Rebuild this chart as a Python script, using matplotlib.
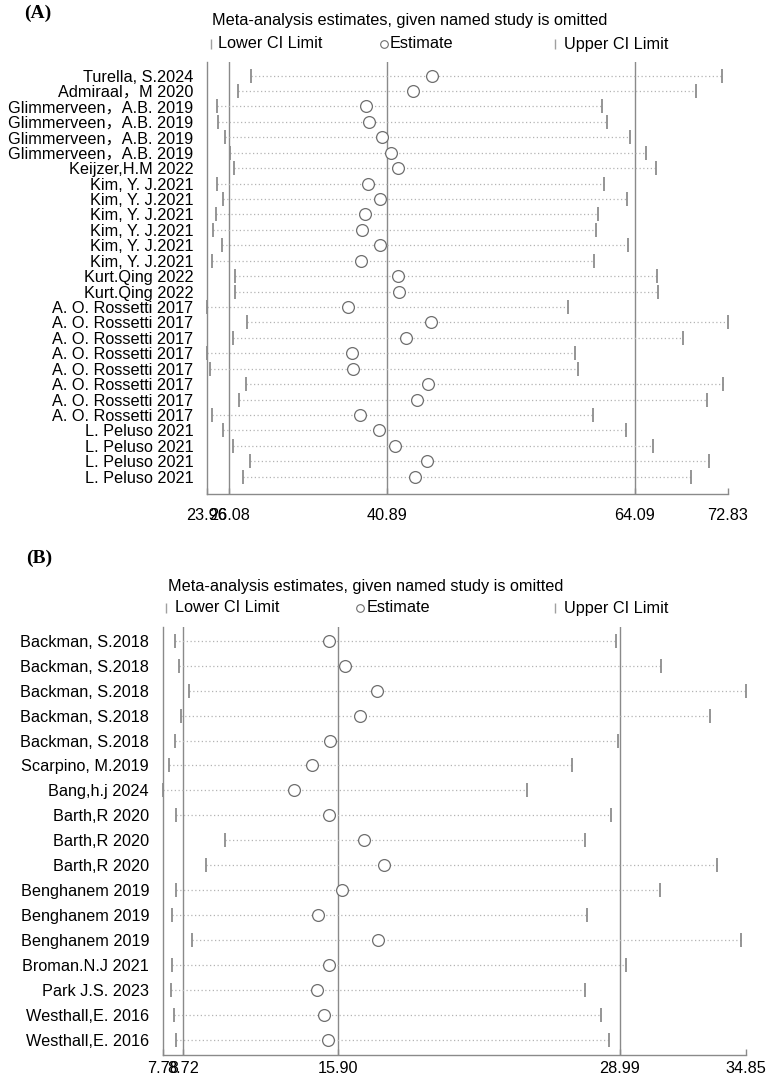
import matplotlib
matplotlib.use('Agg')
import matplotlib.pyplot as plt
from matplotlib.lines import Line2D

plt.rcParams['font.family'] = ['Liberation Sans', 'Noto Sans CJK SC', 'DejaVu Sans']

# ---------------- data: panel A ----------------
labels_a = ["Turella, S.2024", "Admiraal，M 2020",
            "Glimmerveen，A.B. 2019", "Glimmerveen，A.B. 2019",
            "Glimmerveen，A.B. 2019", "Glimmerveen，A.B. 2019",
            "Keijzer,H.M 2022",
            "Kim, Y. J.2021", "Kim, Y. J.2021", "Kim, Y. J.2021",
            "Kim, Y. J.2021", "Kim, Y. J.2021", "Kim, Y. J.2021",
            "Kurt.Qing 2022", "Kurt.Qing 2022",
            "A. O. Rossetti 2017", "A. O. Rossetti 2017", "A. O. Rossetti 2017",
            "A. O. Rossetti 2017", "A. O. Rossetti 2017", "A. O. Rossetti 2017",
            "A. O. Rossetti 2017", "A. O. Rossetti 2017",
            "L. Peluso 2021", "L. Peluso 2021", "L. Peluso 2021", "L. Peluso 2021"]
lower_a = [28.14, 26.93, 24.91, 25.04, 25.65, 26.12, 26.56,
           24.94, 25.55, 24.81, 24.57, 25.45, 24.50,
           26.59, 26.62,
           23.96, 27.80, 26.49, 24.03, 24.27, 27.67, 26.96, 24.46,
           25.51, 26.42, 28.04, 27.40]
est_a = [45.06, 43.31, 38.94, 39.21, 40.42, 41.26, 41.87,
         39.07, 40.22, 38.77, 38.53, 40.22, 38.40,
         41.93, 41.97,
         37.26, 44.99, 42.61, 37.59, 37.73, 44.76, 43.72, 38.37,
         40.15, 41.66, 44.62, 43.51]
upper_a = [72.25, 69.79, 60.98, 61.48, 63.67, 65.15, 66.06,
           61.21, 63.37, 60.64, 60.44, 63.50, 60.30,
           66.16, 66.23,
           57.88, 72.83, 68.62, 58.52, 58.76, 72.35, 70.87, 60.17,
           63.23, 65.79, 71.07, 69.32]
overall_a = [26.08, 40.89, 64.09]   # lower CI, estimate, upper CI

# ---------------- data: panel B ----------------
labels_b = ["Backman, S.2018", "Backman, S.2018", "Backman, S.2018",
            "Backman, S.2018", "Backman, S.2018", "Scarpino, M.2019",
            "Bang,h.j 2024", "Barth,R 2020", "Barth,R 2020", "Barth,R 2020",
            "Benghanem 2019", "Benghanem 2019", "Benghanem 2019",
            "Broman.N.J 2021", "Park J.S. 2023",
            "Westhall,E. 2016", "Westhall,E. 2016"]
lower_b = [8.33, 8.54, 9.01, 8.63, 8.33, 8.05, 7.78, 8.41, 10.65, 9.77,
           8.39, 8.18, 9.12, 8.22, 8.17, 8.30, 8.37]
est_b = [15.51, 16.25, 17.73, 16.93, 15.53, 14.69, 13.85, 15.51, 17.10, 18.07,
         16.09, 15.00, 17.77, 15.51, 14.95, 15.28, 15.45]
upper_b = [28.83, 30.92, 34.85, 33.20, 28.92, 26.79, 24.68, 28.60, 27.39, 33.50,
           30.88, 27.50, 34.62, 29.28, 27.39, 28.15, 28.51]
overall_b = [8.72, 15.90, 28.99]

title_text = "Meta-analysis estimates, given named study is omitted"

W, H = 767, 1083
fig = plt.figure(figsize=(W / 100, H / 100), dpi=100)

FS = 11.7
GRAY_LINE = '#8a8a8a'
GRAY_TICK = '#8c8c8c'
GRAY_DOT = '#b4b4b4'
GRAY_CIRC = '#6e6e6e'


def fx(px):
    return px / W


def fy(py):
    return 1 - py / H


def panel(rect, labels, lower, est, upper, overall, ylim, tick_ms, label_pad, ypad):
    ax = fig.add_axes(rect)
    n = len(labels)
    ys = list(range(1, n + 1))
    xmin, xmax = min(lower), max(upper)
    for y, lo, e, up in zip(ys, lower, est, upper):
        ax.plot([lo, up], [y, y], linestyle=(0, (1, 2)), color=GRAY_DOT, lw=0.9, zorder=2)
    ax.plot(lower, ys, linestyle='none', marker='|', ms=tick_ms, mew=1.3,
            color=GRAY_TICK, zorder=3, clip_on=False)
    ax.plot(upper, ys, linestyle='none', marker='|', ms=tick_ms, mew=1.3,
            color=GRAY_TICK, zorder=3, clip_on=False)
    ax.plot(est, ys, linestyle='none', marker='o', ms=8.5, mfc='white',
            mec=GRAY_CIRC, mew=0.9, zorder=4, clip_on=False)
    for v in overall:
        ax.axvline(v, color=GRAY_LINE, lw=1.0, zorder=1)
    ax.set_xlim(xmin, xmax)
    ax.set_ylim(*ylim)
    ax.set_yticks(ys)
    ax.set_yticklabels(labels, fontsize=FS)
    ax.tick_params(axis='y', length=0, pad=ypad)
    ticks = [xmin] + list(overall) + [xmax]
    ax.set_xticks(ticks)
    ax.set_xticklabels(["%.2f" % t for t in ticks], fontsize=FS)
    ax.tick_params(axis='x', direction='in', length=4.5, width=1.0,
                   color=GRAY_LINE, pad=label_pad)
    for s in ['top', 'right']:
        ax.spines[s].set_visible(False)
    for s in ['left', 'bottom']:
        ax.spines[s].set_color(GRAY_LINE)
        ax.spines[s].set_linewidth(1.0)
    return ax


def legend(y, bar1, t1, circ, t2, bar2, t3):
    fig.add_artist(Line2D([fx(bar1)], [fy(y)], marker='|', ms=7, mew=1.0,
                          color='#a0a0a0', linestyle='none'))
    fig.text(fx(t1), fy(y), "Lower CI Limit", fontsize=FS, ha='left', va='center')
    fig.add_artist(Line2D([fx(circ)], [fy(y)], marker='o', ms=5.5, mew=0.8,
                          mfc='white', mec=GRAY_CIRC, linestyle='none'))
    fig.text(fx(t2), fy(y), "Estimate", fontsize=FS, ha='left', va='center')
    fig.add_artist(Line2D([fx(bar2)], [fy(y)], marker='|', ms=7, mew=1.0,
                          color='#a0a0a0', linestyle='none'))
    fig.text(fx(t3), fy(y), "Upper CI Limit", fontsize=FS, ha='left', va='center')


# ---------- Panel A ----------
rect_a = [fx(206.5), fy(494), fx(728) - fx(206.5), (494 - 62) / H]
panel(rect_a, labels_a, lower_a, est_a, upper_a, overall_a,
      (28.12, 0.125), 9.5, 10.0, 9.5)
fig.text(fx(24), fy(13), "(A)", fontsize=14, fontweight='bold',
         family='Liberation Serif', ha='left', va='center')
fig.text(fx(212), fy(21), title_text, fontsize=FS, ha='left', va='center')
legend(44, 211, 218, 384, 390, 555, 564)

# ---------- Panel B ----------
rect_b = [fx(162.9), fy(1055), fx(745.7) - fx(162.9), (1055 - 627) / H]
panel(rect_b, labels_b, lower_b, est_b, upper_b, overall_b,
      (17.6, 0.451), 10.5, 4.0, 10.0)
fig.text(fx(26), fy(558), "(B)", fontsize=14, fontweight='bold',
         family='Liberation Serif', ha='left', va='center')
fig.text(fx(168), fy(587), title_text, fontsize=FS, ha='left', va='center')
legend(608, 166, 175, 360, 367, 555, 564)

fig.savefig('out.png', dpi=100)
